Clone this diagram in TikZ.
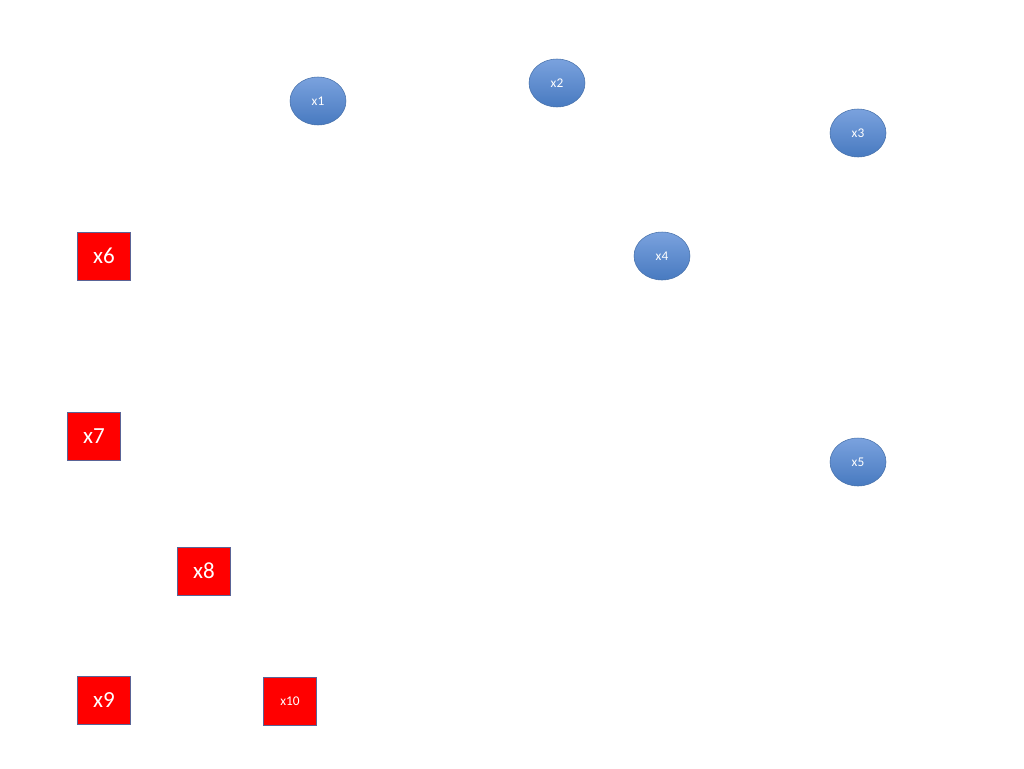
\documentclass[tikz,border=0pt]{standalone}
\usepackage{fontspec}
\setmainfont{Carlito}
\usetikzlibrary{shapes.geometric}
\usetikzlibrary{positioning}

\definecolor{nodetop}{RGB}{122,162,222}
\definecolor{nodebot}{RGB}{72,122,192}
\definecolor{nodeedge}{RGB}{70,112,170}
\definecolor{boxedge}{RGB}{90,100,150}

\begin{document}
\begin{tikzpicture}[x=0.75pt, y=-0.75pt]

\tikzset{
    blob/.style={ellipse, draw=nodeedge, thin, top color=nodetop, bottom color=nodebot,
        minimum width=42pt, minimum height=36pt, inner sep=0pt, text=white, font=\normalsize},
    redbox/.style={rectangle, draw=boxedge, thin, fill=red, minimum width=40pt,
        minimum height=36pt, inner sep=0pt, text=white, font=\LARGE},
    smallbox/.style={redbox, font=\normalsize}
}

\useasboundingbox (0,0) rectangle (1024,768);

%%% Round nodes %%%
\node[blob] (x1) at (318,101) {x1};
\node[blob] (x2) at (557,83)  {x2};
\node[blob] (x3) at (858,133) {x3};
\node[blob] (x4) at (662,256) {x4};
\node[blob] (x5) at (858,462) {x5};

%%% Square nodes %%%
\node[redbox] (x6) at (104,256) {x6};
\node[redbox] (x7) at (94,436)  {x7};
\node[redbox] (x8) at (204,571) {x8};
\node[redbox] (x9) at (104,700) {x9};
\node[smallbox] (x10) at (290,701) {x10};

\end{tikzpicture}
\end{document}
